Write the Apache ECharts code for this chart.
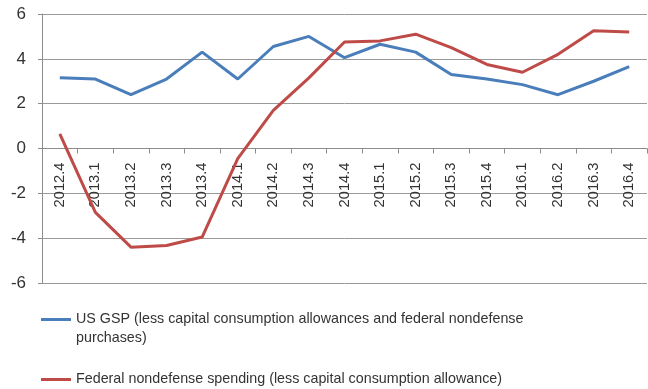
<!DOCTYPE html>
<html><head><meta charset="utf-8">
<script src="https://cdn.jsdelivr.net/npm/echarts@6/dist/echarts.min.js"></script>
<style>html,body{margin:0;padding:0;background:#fff}#c{width:648px;height:389px}</style>
</head><body><div id="c"></div>
<script>
var categories = ['2012.4','2013.1','2013.2','2013.3','2013.4','2014.1','2014.2','2014.3','2014.4','2015.1','2015.2','2015.3','2015.4','2016.1','2016.2','2016.3','2016.4'];
var gspValues = [3.16,3.1,2.4,3.1,4.3,3.1,4.55,5.0,4.05,4.65,4.3,3.3,3.1,2.85,2.4,3.0,3.65];
var spendValues = [0.65,-2.85,-4.4,-4.33,-3.95,-0.45,1.7,3.15,4.75,4.8,5.1,4.5,3.75,3.4,4.2,5.25,5.2];
var name1 = 'US GSP (less capital consumption allowances and federal nondefense\npurchases)';
var name2 = 'Federal nondefense spending (less capital consumption allowance)';
var font = 'Liberation Sans';
var chart = echarts.init(document.getElementById('c'));
chart.setOption({
  animation: false,
  grid: {left: 42, right: 1, top: 14, bottom: 106},
  legend: [{
    data: [name1], left: 41, top: 291, padding: 0, orient: 'vertical', icon: 'rect',
    itemWidth: 30, itemHeight: 3,
    formatter: function (n) { return '\n' + n; },
    textStyle: {fontFamily: font, fontSize: 14.3, color: '#333', lineHeight: 19}
  },{
    data: [name2], left: 41, top: 370, padding: 0, orient: 'vertical', icon: 'rect',
    itemWidth: 30, itemHeight: 3,
    textStyle: {fontFamily: font, fontSize: 14.3, color: '#333', lineHeight: 19}
  }],
  xAxis: {
    type: 'category', data: categories, boundaryGap: true, position: 'bottom', offset: -134.5,
    axisLine: {onZero: false, lineStyle: {color: '#8c8c8c', width: 1}},
    axisTick: {show: true, length: 5, lineStyle: {color: '#8c8c8c'}},
    axisLabel: {rotate: 90, margin: 14, fontFamily: font, fontSize: 14.7, color: '#333'}
  },
  yAxis: {
    type: 'value', min: -6, max: 6, interval: 2,
    axisLine: {show: true, lineStyle: {color: '#8c8c8c'}},
    axisTick: {show: true, length: 4, lineStyle: {color: '#8c8c8c'}},
    splitLine: {lineStyle: {color: '#9a9a9a', width: 1}},
    axisLabel: {fontFamily: font, fontSize: 17, color: '#333', margin: 16}
  },
  series: [{
    name: name1, type: 'line', data: gspValues, symbol: 'none', z: 3,
    lineStyle: {color: '#4a7ebb', width: 3}, itemStyle: {color: '#4a7ebb'}
  },{
    name: name2, type: 'line', data: spendValues, symbol: 'none', z: 3,
    lineStyle: {color: '#be4b48', width: 3}, itemStyle: {color: '#be4b48'}
  }]
});
</script></body></html>
